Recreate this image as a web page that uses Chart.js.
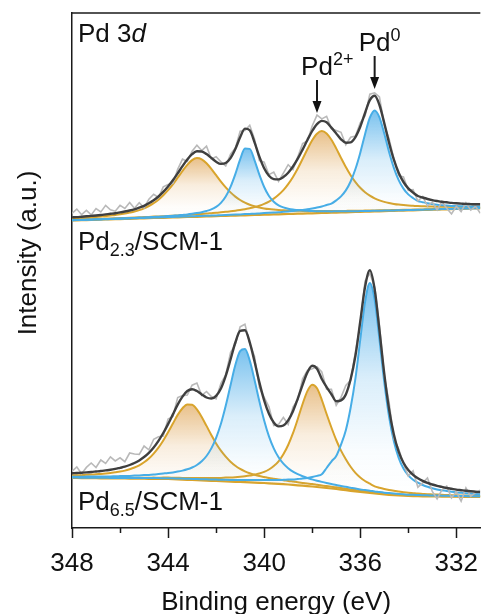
<!DOCTYPE html>
<html>
<head>
<meta charset="utf-8">
<script src="https://cdn.jsdelivr.net/npm/chart.js@4.4.1/dist/chart.umd.min.js"></script>
<style>
  html, body { margin: 0; padding: 0; background: #fff; }
  canvas { display: block; }
</style>
</head>
<body>
<canvas id="xpsChart" width="488" height="614"></canvas>
<script>
// binding energy grid (eV), shared by every curve
const energy = [348.0,347.8,347.6,347.4,347.2,347.0,346.8,346.6,346.4,346.2,
  346.0,345.8,345.6,345.4,345.2,345.0,344.8,344.6,344.4,344.2,
  344.0,343.8,343.6,343.4,343.2,343.0,342.8,342.6,342.4,342.2,
  342.0,341.8,341.6,341.4,341.2,341.0,340.8,340.6,340.4,340.2,
  340.0,339.8,339.6,339.4,339.2,339.0,338.8,338.6,338.4,338.2,
  338.0,337.8,337.6,337.4,337.2,337.0,336.8,336.6,336.4,336.2,
  336.0,335.8,335.6,335.4,335.2,335.0,334.8,334.6,334.4,334.2,
  334.0,333.8,333.6,333.4,333.2,333.0,332.8,332.6,332.4,332.2,
  332.0,331.8,331.6,331.4,331.2,331.0];

// ---- Pd2.3/SCM-1 (upper, offset) ----
const topRaw = [314.6,318.9,313.3,317.7,313.1,319.5,316.0,322.6,318.2,316.8,
  322.6,319.5,325.5,319.7,325.3,320.2,328.7,333.7,330.5,341.1,
  343.5,344.7,358.6,368.9,366.6,376.8,382.7,377.5,381.9,369.1,
  371.3,366.1,362.0,373.9,379.9,396.7,397.4,402.7,388.7,367.4,
  365.8,353.3,355.9,346.6,354.9,363.3,358.5,371.3,384.4,387.0,
  402.0,412.9,409.1,411.7,399.4,397.6,395.7,383.3,390.7,391.9,
  405.2,412.0,433.8,435.2,431.0,403.0,389.3,369.3,352.3,351.0,
  337.6,338.4,327.0,331.5,322.0,325.9,318.0,326.2,319.7,314.1,
  321.7,316.4,325.1,317.9,321.7,314.7];
const topEnvelope = [310.6,310.9,311.3,311.7,312.1,312.5,313.0,313.6,314.2,314.8,
  315.6,316.5,317.5,318.7,320.3,322.2,324.7,327.7,331.5,336.1,
  341.5,347.7,354.6,361.9,368.6,373.8,376.7,376.5,373.9,370.1,
  366.3,364.1,365.0,369.9,378.9,390.7,399.4,397.7,385.7,371.4,
  359.8,352.3,348.9,348.6,350.9,355.3,361.5,369.3,378.4,388.0,
  397.0,403.9,407.1,405.7,400.4,394.6,388.7,385.3,385.7,390.9,
  401.2,415.0,427.8,432.2,423.0,405.0,385.3,368.3,355.3,346.0,
  339.6,335.4,332.0,330.5,329.0,327.9,327.0,326.2,325.7,325.1,
  324.7,324.4,324.1,323.9,323.7,323.7];
const topPd0a = [307.8,308.0,308.2,308.3,308.5,308.7,308.8,309.0,309.2,309.4,
  309.6,309.7,310.0,310.1,310.4,310.6,310.8,311.1,311.3,311.6,
  311.9,312.3,312.6,313.1,313.6,314.2,314.9,315.8,317.0,318.6,
  321.1,325.1,331.5,341.1,353.9,368.6,379.5,379.1,367.7,353.3,
  341.0,332.0,326.3,322.7,320.6,319.3,318.4,317.9,317.4,317.2,
  316.9,316.8,316.7,316.7,316.6,316.7,316.7,316.7,316.8,316.8,
  316.9,317.0,317.1,317.2,317.3,317.4,317.5,317.6,317.7,317.8,
  318.0,318.1,318.2,318.3,318.5,318.6,318.7,318.9,319.0,319.1,
  319.3,319.4,319.5,319.7,319.8,319.9];
const topPd0b = [307.7,307.9,308.0,308.2,308.3,308.5,308.6,308.8,308.9,309.1,
  309.3,309.4,309.6,309.7,309.9,310.0,310.2,310.4,310.5,310.7,
  310.9,311.0,311.2,311.4,311.5,311.7,311.9,312.1,312.2,312.4,
  312.6,312.8,313.0,313.2,313.4,313.6,313.9,314.1,314.3,314.6,
  314.9,315.2,315.5,315.8,316.2,316.6,317.0,317.5,318.1,318.7,
  319.5,320.4,321.5,323.0,324.4,327.6,331.6,337.6,346.5,359.0,
  375.1,393.8,410.3,417.6,410.6,394.4,376.0,360.1,347.9,339.4,
  333.6,329.9,327.0,325.8,324.7,323.9,323.2,322.8,322.4,322.1,
  321.9,321.8,321.6,321.6,321.5,321.5];
const topPd2a = [309.4,309.7,310.0,310.3,310.7,311.1,311.5,311.9,312.5,313.0,
  313.7,314.4,315.4,316.5,317.9,319.7,322.0,324.8,328.3,332.7,
  337.8,343.7,350.3,357.0,363.2,367.9,369.9,368.7,364.8,359.2,
  352.8,346.4,340.6,335.6,331.4,328.0,325.3,323.2,321.7,320.5,
  319.6,318.9,318.4,318.0,317.7,317.5,317.3,317.2,317.1,317.0,
  317.0,316.9,316.9,316.9,317.0,317.0,317.0,317.1,317.2,317.2,
  317.3,317.4,317.5,317.6,317.7,317.8,317.8,318.0,318.1,318.2,
  318.3,318.4,318.5,318.6,318.8,318.9,319.0,319.1,319.2,319.4,
  319.5,319.6,319.7,319.9,320.0,320.1];
const topPd2b = [308.1,308.3,308.5,308.7,308.8,309.0,309.2,309.4,309.5,309.7,
  309.9,310.1,310.3,310.5,310.7,310.9,311.1,311.4,311.6,311.8,
  312.0,312.3,312.5,312.8,313.1,313.4,313.7,314.1,314.4,314.8,
  315.2,315.7,316.2,316.7,317.3,318.0,318.8,319.8,320.9,322.3,
  324.1,326.4,329.4,333.2,337.9,343.9,351.1,359.5,369.0,378.7,
  387.7,394.3,396.9,394.5,388.2,379.6,370.1,361.0,352.8,345.9,
  340.2,335.8,332.3,329.6,327.6,326.1,325.0,324.1,323.4,322.9,
  322.5,322.2,321.9,321.7,321.5,321.4,321.3,321.3,321.2,321.2,
  321.2,321.2,321.2,321.2,321.3,321.3];
const topBaseline = [307.5,307.6,307.8,307.9,308.1,308.2,308.4,308.5,308.7,308.8,
  308.9,309.1,309.2,309.4,309.5,309.7,309.8,310.0,310.1,310.2,
  310.4,310.5,310.7,310.8,311.0,311.1,311.2,311.4,311.5,311.7,
  311.8,312.0,312.1,312.3,312.4,312.5,312.7,312.8,313.0,313.1,
  313.3,313.4,313.6,313.7,313.8,314.0,314.1,314.3,314.4,314.6,
  314.7,314.8,315.0,315.1,315.3,315.4,315.6,315.7,315.9,316.0,
  316.1,316.3,316.4,316.6,316.7,316.9,317.0,317.2,317.3,317.4,
  317.6,317.7,317.9,318.0,318.2,318.3,318.4,318.6,318.7,318.9,
  319.0,319.2,319.3,319.5,319.6,319.7];

// ---- Pd6.5/SCM-1 (lower) ----
const botRaw = [56.7,61.0,54.3,60.6,65.0,60.5,68.0,64.6,71.2,67.1,
  70.2,66.3,75.0,74.0,73.6,82.0,78.2,88.6,91.2,92.0,
  108.9,111.6,130.4,132.4,133.0,142.8,145.0,132.6,136.5,131.5,
  129.2,144.6,153.2,175.5,183.5,201.1,203.8,184.7,171.5,140.6,
  130.7,121.2,102.5,103.6,110.5,103.7,120.8,128.4,149.2,157.6,
  159.2,161.3,156.0,138.9,138.8,122.8,130.6,142.6,147.7,176.2,
  204.3,247.0,254.7,240.7,202.8,152.4,125.9,89.5,79.3,64.2,
  52.0,57.2,40.8,45.2,50.1,36.5,29.1,38.1,42.0,30.2,
  36.4,26.8,40.2,31.7,35.3,37.9];
const botEnvelope = [54.7,55.0,55.3,55.6,56.0,56.5,57.0,57.6,58.2,59.1,
  60.2,61.3,63.0,65.0,67.6,71.0,75.2,80.6,87.2,95.0,
  103.9,113.6,123.4,131.4,137.0,138.8,137.0,133.6,130.5,129.5,
  132.2,139.6,152.2,168.5,185.5,197.1,197.8,185.7,166.5,145.6,
  127.7,114.2,105.5,101.6,102.5,107.7,116.8,129.4,143.2,155.6,
  162.2,159.3,149.0,140.9,133.8,126.8,127.6,133.6,148.7,172.2,
  206.3,241.0,257.7,238.7,197.8,154.4,118.9,93.5,76.3,65.2,
  58.0,53.2,49.8,47.2,45.1,43.5,42.1,41.1,40.0,39.2,
  38.4,37.8,37.2,36.7,36.3,35.9];
const botPd0a = [51.2,51.3,51.3,51.4,51.4,51.5,51.5,51.6,51.6,51.8,
  51.9,52.0,52.1,52.4,52.6,52.9,53.1,53.5,54.0,54.5,
  55.0,55.6,56.4,57.4,58.7,60.5,63.0,66.7,72.0,79.6,
  90.2,104.2,122.2,142.8,162.9,176.8,178.9,167.4,148.0,126.8,
  107.6,91.7,79.7,70.7,64.3,59.8,56.3,53.8,51.7,50.0,
  48.6,47.3,46.1,45.0,44.0,43.1,42.0,41.2,40.3,39.4,
  38.6,37.9,37.2,36.6,35.9,35.3,34.9,34.5,34.1,33.7,
  33.3,33.2,33.0,32.8,32.7,32.5,32.5,32.3,32.3,32.1,
  32.1,32.0,31.9,31.8,31.8,31.7];
const botPd0b = [50.4,50.4,50.3,50.3,50.3,50.3,50.2,50.2,50.1,50.1,
  50.1,50.0,50.0,50.0,50.0,50.0,49.9,49.9,49.9,49.8,
  49.8,49.7,49.5,49.4,49.2,49.1,48.9,48.8,48.7,48.5,
  48.4,48.3,48.2,48.1,48.0,48.0,47.9,47.9,47.9,47.9,
  47.9,48.0,48.0,48.0,48.2,48.4,48.6,49.0,49.4,50.0,
  50.9,52.1,53.7,60.0,66.5,72.0,83.4,97.8,120.2,149.6,
  188.0,225.9,245.0,228.4,188.6,146.1,111.4,86.7,70.1,59.5,
  52.7,48.3,45.3,43.0,41.2,39.8,38.6,37.8,36.9,36.2,
  35.6,35.2,34.8,34.4,34.0,33.8];
const botPd2a = [52.6,52.8,52.9,53.2,53.4,53.8,54.1,54.5,55.0,55.7,
  56.4,57.4,58.8,60.5,62.7,65.7,69.5,74.4,80.3,87.5,
  95.7,104.4,113.1,119.8,123.6,123.3,118.6,111.0,102.1,93.0,
  84.6,77.3,71.3,66.3,62.3,59.1,56.7,54.8,53.3,52.0,
  51.0,50.0,49.2,48.4,47.7,47.1,46.4,45.7,45.1,44.5,
  43.9,43.2,42.5,41.9,41.3,40.7,40.0,39.3,38.6,37.9,
  37.3,36.7,36.1,35.6,35.0,34.5,34.1,33.8,33.4,33.1,
  32.8,32.6,32.5,32.4,32.3,32.1,32.1,32.0,32.0,31.8,
  31.8,31.7,31.7,31.6,31.6,31.4];
const botPd2b = [50.5,50.5,50.4,50.4,50.4,50.4,50.3,50.4,50.3,50.4,
  50.3,50.3,50.3,50.3,50.3,50.3,50.3,50.4,50.3,50.4,
  50.4,50.3,50.2,50.1,50.1,50.0,49.9,49.9,49.9,50.0,
  50.0,50.1,50.4,50.5,50.8,51.2,51.7,52.4,53.5,54.5,
  56.1,58.5,61.9,66.7,73.7,83.0,94.8,109.0,124.0,136.9,
  143.3,139.7,128.2,114.0,100.5,88.0,77.4,68.8,61.2,55.1,
  50.5,47.0,44.3,41.7,40.2,39.0,38.0,37.2,36.5,35.8,
  35.2,34.8,34.4,34.1,33.8,33.6,33.4,33.2,33.0,32.8,
  32.7,32.5,32.4,32.3,32.2,32.1];
const botBaseline = [50.0,50.0,49.9,49.9,49.8,49.8,49.7,49.7,49.6,49.6,
  49.5,49.5,49.4,49.4,49.3,49.3,49.2,49.2,49.1,49.1,
  49.0,48.8,48.6,48.4,48.2,48.0,47.8,47.6,47.4,47.2,
  47.0,46.8,46.6,46.4,46.2,46.0,45.8,45.6,45.4,45.2,
  45.0,44.7,44.4,44.1,43.8,43.5,43.1,42.7,42.3,41.9,
  41.5,41.0,40.5,40.0,39.5,39.0,38.4,37.8,37.2,36.6,
  36.0,35.5,35.0,34.5,34.0,33.5,33.2,32.9,32.6,32.3,
  32.0,31.9,31.8,31.7,31.6,31.5,31.5,31.4,31.4,31.3,
  31.3,31.2,31.2,31.1,31.1,31.0];

// arrow markers (eV) for the two chemical states
const markerEnergy = [337.8, 335.4];

const FONT = "'Liberation Sans', Arial, sans-serif";
const ORANGE = '#d9a42c';
const BLUE = '#47ade6';

function pts(arr) {
  return energy.map((e, i) => ({ x: e, y: arr[i] }));
}

// vertical fade from the component's apex down to its baseline
function fade(rgb, arr) {
  const peak = Math.max(...arr), base = Math.min(...arr);
  return function (ctx) {
    const chart = ctx.chart;
    if (!chart.chartArea) return 'transparent';
    const y = chart.scales.y;
    const g = chart.ctx.createLinearGradient(0, y.getPixelForValue(peak), 0, y.getPixelForValue(base));
    g.addColorStop(0, 'rgba(' + rgb + ',0.72)');
    g.addColorStop(0.45, 'rgba(' + rgb + ',0.2)');
    g.addColorStop(0.8, 'rgba(' + rgb + ',0.03)');
    g.addColorStop(1, 'rgba(' + rgb + ',0)');
    return g;
  };
}

function component(arr, color, rgb, target) {
  return {
    data: pts(arr), borderColor: color, borderWidth: 2,
    backgroundColor: fade(rgb, arr), fill: { target: target },
    cubicInterpolationMode: 'monotone', pointRadius: 0
  };
}

const datasets = [
  { data: pts(topEnvelope), borderColor: '#3f3f3f', borderWidth: 2.4, cubicInterpolationMode: 'monotone', pointRadius: 0, fill: false },
  { data: pts(botEnvelope), borderColor: '#3f3f3f', borderWidth: 2.4, cubicInterpolationMode: 'monotone', pointRadius: 0, fill: false },
  { data: pts(topRaw), borderColor: '#b9b9b9', borderWidth: 1.6, tension: 0, pointRadius: 0, fill: false },
  { data: pts(botRaw), borderColor: '#b9b9b9', borderWidth: 1.6, tension: 0, pointRadius: 0, fill: false },
  component(topPd0b, BLUE, '70,170,232', 12),
  component(topPd0a, BLUE, '70,170,232', 12),
  component(topPd2b, ORANGE, '224,168,92', 12),
  component(topPd2a, ORANGE, '224,168,92', 12),
  component(botPd0b, BLUE, '70,170,232', 13),
  component(botPd0a, BLUE, '70,170,232', 13),
  component(botPd2b, ORANGE, '224,168,92', 13),
  component(botPd2a, ORANGE, '224,168,92', 13),
  { data: pts(topBaseline), borderColor: ORANGE, borderWidth: 2.2, pointRadius: 0, fill: false },
  { data: pts(botBaseline), borderColor: ORANGE, borderWidth: 2.2, pointRadius: 0, fill: false }
];

// draws a run of text pieces (sub/superscripts, italics) from a left x
function richText(ctx, parts, x, y) {
  parts.forEach(p => {
    const size = p.size || 26;
    ctx.font = (p.italic ? 'italic ' : '') + size + 'px ' + FONT;
    ctx.fillText(p.t, x, y + (p.dy || 0));
    x += ctx.measureText(p.t).width;
  });
}

const decorations = {
  id: 'decorations',
  afterDraw(chart) {
    const { ctx, chartArea: a, scales } = chart;
    ctx.save();
    ctx.strokeStyle = '#1a1a1a';
    ctx.fillStyle = '#111';
    ctx.lineWidth = 1.5;
    // top frame line
    ctx.beginPath();
    ctx.moveTo(a.left, a.top);
    ctx.lineTo(a.right, a.top);
    ctx.stroke();
    // major / minor tick marks
    scales.x.ticks.forEach(t => {
      const x = Math.round(scales.x.getPixelForValue(t.value)) + 0.5;
      const len = t.value % 4 === 0 ? 10 : 5;
      ctx.beginPath();
      ctx.moveTo(x, a.bottom);
      ctx.lineTo(x, a.bottom + len);
      ctx.stroke();
    });
    // axis titles
    ctx.textBaseline = 'alphabetic';
    ctx.textAlign = 'center';
    ctx.font = '26px ' + FONT;
    ctx.fillText('Binding energy (eV)', (a.left + a.right) / 2, 610);
    ctx.save();
    ctx.translate(36, 253);
    ctx.rotate(-Math.PI / 2);
    ctx.fillText('Intensity (a.u.)', 0, 0);
    ctx.restore();
    // panel labels
    ctx.textAlign = 'left';
    richText(ctx, [{ t: 'Pd 3' }, { t: 'd', italic: true }], a.left + 6, 42);
    richText(ctx, [{ t: 'Pd' }, { t: '2.3', size: 18, dy: 6 }, { t: '/SCM-1' }], a.left + 6, 250);
    richText(ctx, [{ t: 'Pd' }, { t: '6.5', size: 18, dy: 6 }, { t: '/SCM-1' }], a.left + 6, 510);
    // state markers: label + down arrow
    ctx.font = '26px ' + FONT;
    const pdW = ctx.measureText('Pd').width;
    const marks = [
      { sup: '2+', textY: 75, y0: 80, y1: 113 },
      { sup: '0', textY: 51, y0: 56, y1: 89 }
    ];
    marks.forEach((m, i) => {
      const x = scales.x.getPixelForValue(markerEnergy[i]);
      richText(ctx, [{ t: 'Pd' }, { t: m.sup, size: 18, dy: -10 }], x - pdW / 2, m.textY);
      ctx.lineWidth = 2;
      ctx.beginPath();
      ctx.moveTo(x, m.y0);
      ctx.lineTo(x, m.y1 - 8);
      ctx.stroke();
      ctx.beginPath();
      ctx.moveTo(x - 4.5, m.y1 - 12);
      ctx.lineTo(x + 4.5, m.y1 - 12);
      ctx.lineTo(x, m.y1);
      ctx.closePath();
      ctx.fill();
    });
    ctx.restore();
  }
};

Chart.defaults.font.family = FONT;

new Chart(document.getElementById('xpsChart').getContext('2d'), {
  type: 'line',
  data: { datasets: datasets },
  options: {
    responsive: false,
    animation: false,
    devicePixelRatio: 1,
    layout: { padding: { top: 13, left: 0, right: 0, bottom: 0 } },
    plugins: { legend: { display: false }, tooltip: { enabled: false } },
    scales: {
      x: {
        type: 'linear', reverse: true, min: 331, max: 348,
        grid: { display: true, drawOnChartArea: false, drawTicks: true, tickLength: 10, color: 'rgba(0,0,0,0)' },
        border: { display: true, color: '#1a1a1a', width: 1.5 },
        ticks: {
          stepSize: 2, includeBounds: false, autoSkip: false, maxRotation: 0,
          padding: 10, color: '#111', font: { size: 26 },
          callback: v => (v % 4 === 0 ? String(v) : '')
        },
        afterFit: s => { s.height = 86; }
      },
      y: {
        min: 0, max: 515,
        grid: { display: false },
        border: { display: true, color: '#1a1a1a', width: 1.5 },
        ticks: { display: false },
        afterFit: s => { s.width = 72; }
      }
    }
  },
  plugins: [decorations]
});
</script>
</body>
</html>
